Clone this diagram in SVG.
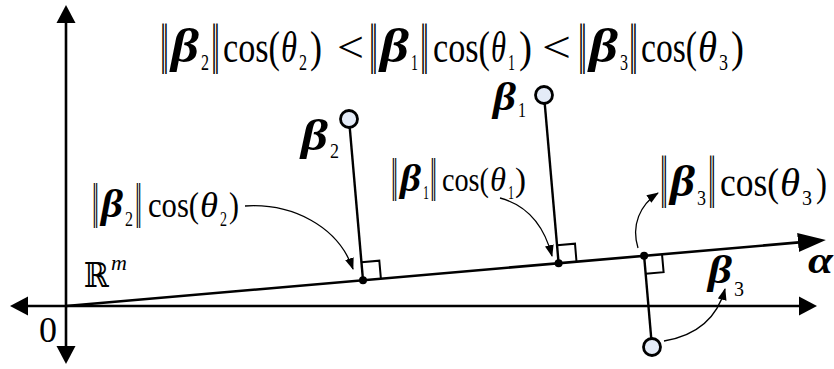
<svg xmlns="http://www.w3.org/2000/svg" width="834" height="369" viewBox="0 0 834 369">
<style>
text{fill:#000}
.b{font-weight:bold;font-style:italic}
.i{font-style:italic}
.ax{stroke:#000;stroke-width:2.6;fill:none}
.perp{stroke:#000;stroke-width:2.4;fill:none}
.box{stroke:#000;stroke-width:2;fill:none}
.pt{fill:#e4ebf7;stroke:#000;stroke-width:2.8}
.dot{fill:#000}
.cv{stroke:#000;stroke-width:1.3;fill:none;marker-end:url(#sm)}
</style>
<defs>
<marker id="ah" viewBox="0 -10 18 20" markerWidth="18" markerHeight="20" markerUnits="userSpaceOnUse" refX="1" refY="0" orient="auto-start-reverse"><path d="M0,-9.5 L18,0 L0,9.5 z" fill="#000"/></marker>
<marker id="aa" viewBox="0 -10 28 20" markerWidth="28" markerHeight="20" markerUnits="userSpaceOnUse" refX="1" refY="0" orient="auto"><path d="M0,-9.5 L28,0 L0,9.5 z" fill="#000"/></marker>
<marker id="sm" viewBox="0 -5 12 10" markerWidth="12" markerHeight="10" markerUnits="userSpaceOnUse" refX="11" refY="0" orient="auto"><path d="M0,-4.5 L12,0 L0,4.5 z" fill="#000"/></marker>
</defs>

<g id="connectors">
<path id="axis-y" class="ax" d="M66,22 L66,347" marker-start="url(#ah)" marker-end="url(#ah)"/>
<path id="axis-x" class="ax" d="M27,306 L800,306" marker-start="url(#ah)" marker-end="url(#ah)"/>
<path id="alpha-line" class="ax" d="M66,306 L799,242.4" marker-end="url(#aa)"/>
<path class="perp" d="M349,119 L363,280.2"/>
<path class="perp" d="M544,95 L558.6,263.2"/>
<path class="perp" d="M644.1,255.8 L652,347"/>
<path class="box" d="M361.4,262.3 L379.3,260.7 L380.9,278.6"/>
<path class="box" d="M557,245.3 L575,243.7 L576.5,261.6"/>
<path class="box" d="M645.7,273.7 L663.6,272.2 L662,254.2"/>
<path class="cv" d="M245,206 C292,203 338,226 353,269"/>
<path class="cv" d="M500,198 C526,205 544,225 552,256"/>
<path class="cv" d="M638,248 C631,225 640,205 658,193"/>
<path class="cv" d="M664,341 C700,335 718,315 725,289"/>
</g>

<g id="origin"><text font-family="Liberation Serif, serif" x="39" y="342" font-size="36">0</text></g>
<g id="space-label"><text font-family="Liberation Serif, serif" y="287"><tspan font-family="DejaVu Serif, serif" x="84" font-size="34" textLength="25" lengthAdjust="spacingAndGlyphs">ℝ</tspan><tspan class="i" x="111" y="270" font-size="22">m</tspan></text></g>
<g id="alpha"><text font-family="Liberation Serif, serif" class="b" x="808" y="273" font-size="38" textLength="25" lengthAdjust="spacingAndGlyphs">α</text></g>

<g id="beta2">
<circle class="pt" cx="349" cy="119" r="8.5"/>
<circle class="dot" cx="363" cy="280.2" r="4"/>
<text font-family="Liberation Serif, serif"><tspan class="b" x="301" y="150" font-size="44" textLength="27" lengthAdjust="spacingAndGlyphs">β</tspan><tspan x="330" y="158" font-size="22" textLength="9" lengthAdjust="spacingAndGlyphs">2</tspan></text>
</g>
<g id="beta1">
<circle class="pt" cx="544" cy="95" r="8.5"/>
<circle class="dot" cx="558.6" cy="263.2" r="4"/>
<text font-family="Liberation Serif, serif"><tspan class="b" x="493" y="110" font-size="40" textLength="23" lengthAdjust="spacingAndGlyphs">β</tspan><tspan x="518" y="117" font-size="20" textLength="8" lengthAdjust="spacingAndGlyphs">1</tspan></text>
</g>
<g id="beta3">
<circle class="pt" cx="652" cy="347" r="8.5"/>
<circle class="dot" cx="644.1" cy="255.8" r="4"/>
<text font-family="Liberation Serif, serif"><tspan class="b" x="708" y="283" font-size="40" textLength="24" lengthAdjust="spacingAndGlyphs">β</tspan><tspan x="734" y="296" font-size="22" textLength="10" lengthAdjust="spacingAndGlyphs">3</tspan></text>
</g>

<g id="label-proj2">
<text font-family="Liberation Serif, serif"><tspan font-family="DejaVu Serif, serif" x="92" y="217" font-size="44" textLength="7" lengthAdjust="spacingAndGlyphs">‖</tspan><tspan class="b" x="101" y="217" font-size="40" textLength="22" lengthAdjust="spacingAndGlyphs">β</tspan><tspan x="125" y="226" font-size="20" textLength="8" lengthAdjust="spacingAndGlyphs">2</tspan><tspan font-family="DejaVu Serif, serif" x="135" y="217" font-size="44" textLength="7" lengthAdjust="spacingAndGlyphs">‖</tspan><tspan x="148" y="217" font-size="36" textLength="51" lengthAdjust="spacingAndGlyphs">cos(</tspan><tspan class="i" x="200" font-size="36" textLength="18" lengthAdjust="spacingAndGlyphs">θ</tspan><tspan x="220" y="226" font-size="20" textLength="7" lengthAdjust="spacingAndGlyphs">2</tspan><tspan x="229" y="217" font-size="36" textLength="10" lengthAdjust="spacingAndGlyphs">)</tspan></text>
</g>
<g id="label-proj1">
<text font-family="Liberation Serif, serif"><tspan font-family="DejaVu Serif, serif" x="391" y="191" font-size="42" textLength="7" lengthAdjust="spacingAndGlyphs">‖</tspan><tspan class="b" x="400" y="191" font-size="38" textLength="21" lengthAdjust="spacingAndGlyphs">β</tspan><tspan x="423" y="199" font-size="19" textLength="6" lengthAdjust="spacingAndGlyphs">1</tspan><tspan font-family="DejaVu Serif, serif" x="430" y="191" font-size="42" textLength="7" lengthAdjust="spacingAndGlyphs">‖</tspan><tspan x="442" y="191" font-size="34" textLength="47" lengthAdjust="spacingAndGlyphs">cos(</tspan><tspan class="i" x="490" font-size="34" textLength="16" lengthAdjust="spacingAndGlyphs">θ</tspan><tspan x="508" y="199" font-size="19" textLength="6" lengthAdjust="spacingAndGlyphs">1</tspan><tspan x="515" y="191" font-size="34" textLength="11" lengthAdjust="spacingAndGlyphs">)</tspan></text>
</g>
<g id="label-proj3">
<text font-family="Liberation Serif, serif"><tspan font-family="DejaVu Serif, serif" x="660" y="196" font-size="52" textLength="8" lengthAdjust="spacingAndGlyphs">‖</tspan><tspan class="b" x="670" y="196" font-size="44" textLength="25" lengthAdjust="spacingAndGlyphs">β</tspan><tspan x="697" y="205" font-size="22" textLength="9" lengthAdjust="spacingAndGlyphs">3</tspan><tspan font-family="DejaVu Serif, serif" x="708" y="196" font-size="52" textLength="8" lengthAdjust="spacingAndGlyphs">‖</tspan><tspan x="720" y="196" font-size="40" textLength="59" lengthAdjust="spacingAndGlyphs">cos(</tspan><tspan class="i" x="780" font-size="40" textLength="20" lengthAdjust="spacingAndGlyphs">θ</tspan><tspan x="802" y="205" font-size="22" textLength="10" lengthAdjust="spacingAndGlyphs">3</tspan><tspan x="816" y="196" font-size="40" textLength="11" lengthAdjust="spacingAndGlyphs">)</tspan></text>
</g>

<g id="formula">
<text font-family="Liberation Serif, serif"><tspan font-family="DejaVu Serif, serif" x="160" y="62" font-size="50" textLength="9" lengthAdjust="spacingAndGlyphs">‖</tspan><tspan class="b" x="171" y="62" font-size="48" textLength="28" lengthAdjust="spacingAndGlyphs">β</tspan><tspan x="201" y="70" font-size="24" textLength="8" lengthAdjust="spacingAndGlyphs">2</tspan><tspan font-family="DejaVu Serif, serif" x="211" y="62" font-size="50" textLength="9" lengthAdjust="spacingAndGlyphs">‖</tspan><tspan x="223" y="62" font-size="44" textLength="57" lengthAdjust="spacingAndGlyphs">cos(</tspan><tspan class="i" x="281" font-size="44" textLength="16" lengthAdjust="spacingAndGlyphs">θ</tspan><tspan x="299" y="70" font-size="24" textLength="8" lengthAdjust="spacingAndGlyphs">2</tspan><tspan x="310" y="62" font-size="44" textLength="12" lengthAdjust="spacingAndGlyphs">)</tspan><tspan x="337" font-size="44" textLength="27" lengthAdjust="spacingAndGlyphs">&lt;</tspan><tspan font-family="DejaVu Serif, serif" x="369" font-size="50" textLength="9" lengthAdjust="spacingAndGlyphs">‖</tspan><tspan class="b" x="380" font-size="48" textLength="29" lengthAdjust="spacingAndGlyphs">β</tspan><tspan x="411" y="70" font-size="24" textLength="7" lengthAdjust="spacingAndGlyphs">1</tspan><tspan font-family="DejaVu Serif, serif" x="420" y="62" font-size="50" textLength="9" lengthAdjust="spacingAndGlyphs">‖</tspan><tspan x="433" font-size="44" textLength="57" lengthAdjust="spacingAndGlyphs">cos(</tspan><tspan class="i" x="491" font-size="44" textLength="15" lengthAdjust="spacingAndGlyphs">θ</tspan><tspan x="508" y="70" font-size="24" textLength="7" lengthAdjust="spacingAndGlyphs">1</tspan><tspan x="519" y="62" font-size="44" textLength="13" lengthAdjust="spacingAndGlyphs">)</tspan><tspan x="542" font-size="44" textLength="29" lengthAdjust="spacingAndGlyphs">&lt;</tspan><tspan font-family="DejaVu Serif, serif" x="578" font-size="50" textLength="9" lengthAdjust="spacingAndGlyphs">‖</tspan><tspan class="b" x="589" font-size="48" textLength="29" lengthAdjust="spacingAndGlyphs">β</tspan><tspan x="620" y="70" font-size="24" textLength="8" lengthAdjust="spacingAndGlyphs">3</tspan><tspan font-family="DejaVu Serif, serif" x="629" y="62" font-size="50" textLength="9" lengthAdjust="spacingAndGlyphs">‖</tspan><tspan x="641" font-size="44" textLength="56" lengthAdjust="spacingAndGlyphs">cos(</tspan><tspan class="i" x="698" font-size="44" textLength="19" lengthAdjust="spacingAndGlyphs">θ</tspan><tspan x="719" y="70" font-size="24" textLength="9" lengthAdjust="spacingAndGlyphs">3</tspan><tspan x="731" y="62" font-size="44" textLength="13" lengthAdjust="spacingAndGlyphs">)</tspan></text>
</g>
</svg>
